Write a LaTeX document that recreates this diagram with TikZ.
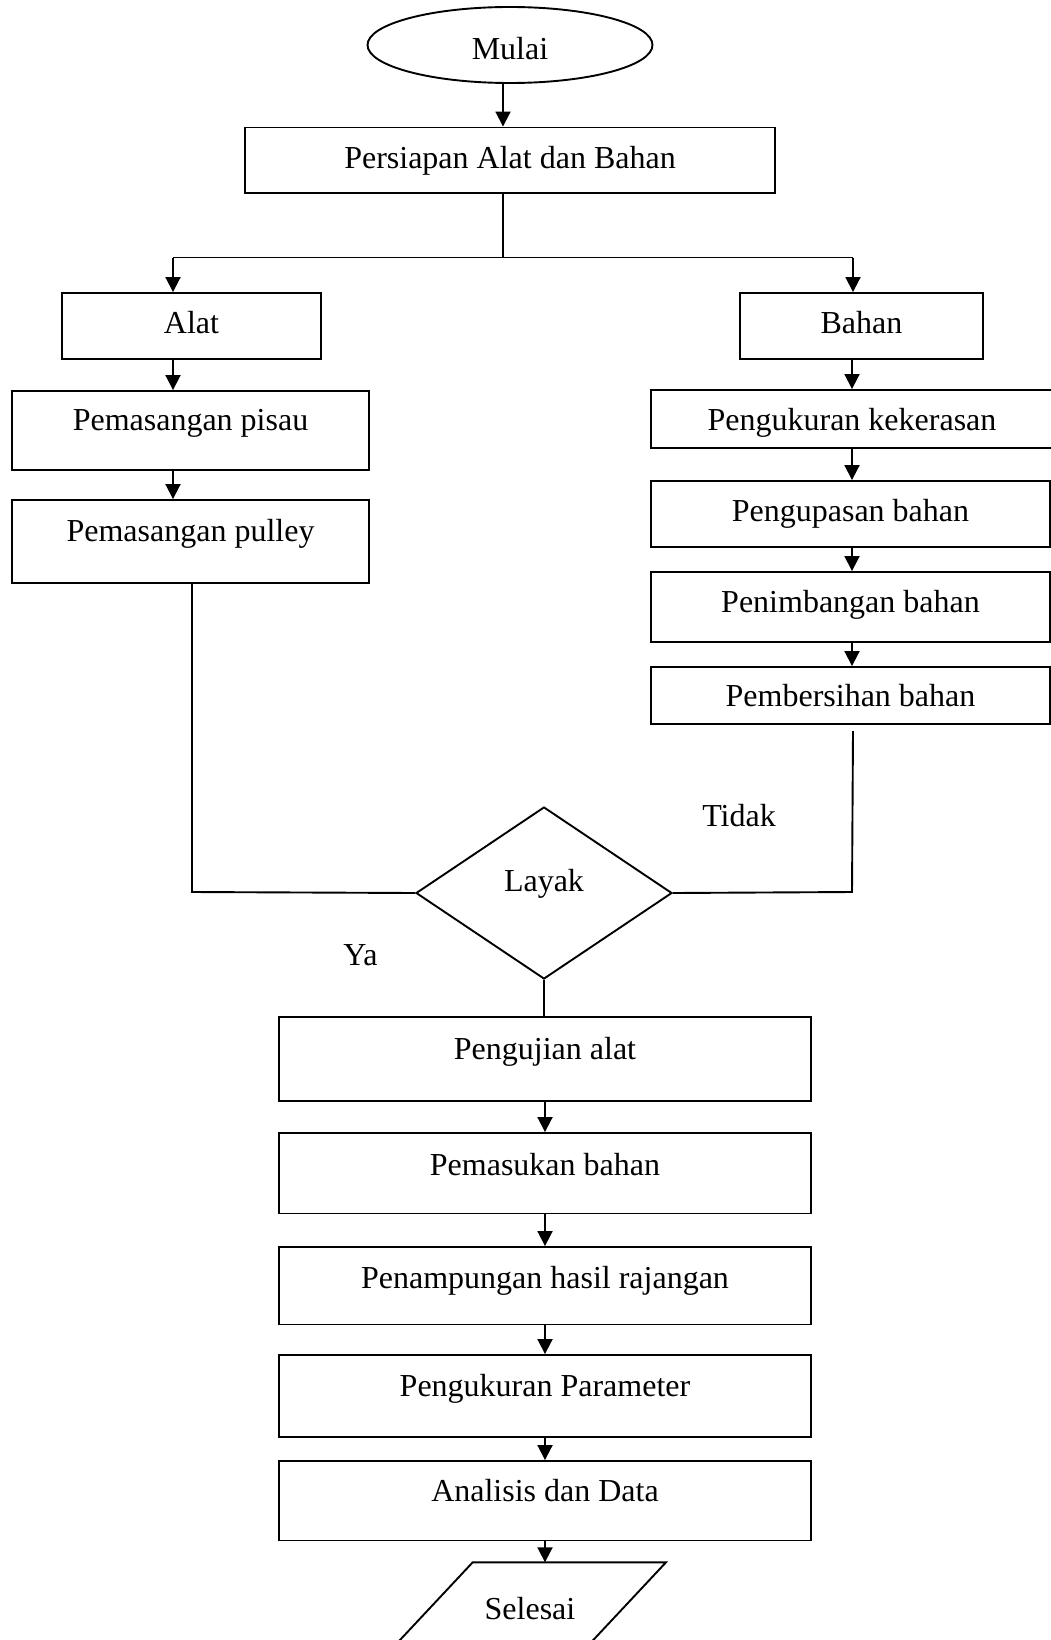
\documentclass[tikz,border=0pt]{standalone}
\usepackage{fontspec}
\setmainfont{Liberation Serif}
\usetikzlibrary{arrows.meta,shapes.geometric}
\begin{document}
\begin{tikzpicture}[x=1pt,y=-1pt,
  line width=1.9pt,
  box/.style={draw, rectangle, inner sep=0pt},
  lbl/.style={inner sep=0pt, anchor=base, font=\fontsize{32}{38}\selectfont},
  arr/.style={-{Triangle[length=15pt,width=15pt]}}]

\path[use as bounding box, fill=white] (0,0) rectangle (1051,1640);
\clip (0,0) rectangle (1051,1640);

% start
\node[draw, ellipse, inner sep=0pt, minimum width=285pt, minimum height=76pt] (mulai) at (510,45) {};
\node[lbl] (tmulai) at (510,60) {Mulai};

% top box
\node[box, minimum width=530pt, minimum height=65.5pt] (persiapan) at (510,160.25) {};
\node[lbl] (tpersiapan) at (510,168.5) {Persiapan Alat dan Bahan};

% left column
\node[box, minimum width=259pt, minimum height=66pt] (alat) at (191.5,326) {};
\node[lbl] (talat) at (191.5,333) {Alat};
\node[box, minimum width=357pt, minimum height=79pt] (pisau) at (190.5,430.5) {};
\node[lbl] (tpisau) at (190.5,430) {Pemasangan pisau};
\node[box, minimum width=357pt, minimum height=83pt] (pulley) at (190.5,541.5) {};
\node[lbl] (tpulley) at (190.5,541.5) {Pemasangan pulley};

% right column
\node[box, minimum width=243pt, minimum height=66pt] (bahan) at (861.5,326) {};
\node[lbl] (tbahan) at (861.5,333) {Bahan};
\node[box, minimum width=402pt, minimum height=58pt] (keras) at (852,419) {};
\node[lbl] (tkeras) at (852,430) {Pengukuran kekerasan};
\node[box, minimum width=399pt, minimum height=66pt] (kupas) at (850.5,514) {};
\node[lbl] (tkupas) at (850.5,521.5) {Pengupasan bahan};
\node[box, minimum width=399pt, minimum height=70pt] (timbang) at (850.5,607) {};
\node[lbl] (ttimbang) at (850.5,612) {Penimbangan bahan};
\node[box, minimum width=399pt, minimum height=57pt] (bersih) at (850.5,695.5) {};
\node[lbl] (tbersih) at (850.5,706.7) {Pembersihan bahan};

% decision
\node[draw, diamond, inner sep=0pt, minimum width=256pt, minimum height=172pt] (layak) at (544,893) {};
\node[lbl] (tlayak) at (544,891.7) {Layak};
\node[lbl] (ttidak) at (739,826.7) {Tidak};
\node[lbl] (tya) at (360.5,965) {Ya};

% lower column
\node[box, minimum width=532pt, minimum height=84pt] (uji) at (545,1059) {};
\node[lbl] (tuji) at (545,1059) {Pengujian alat};
\node[box, minimum width=532pt, minimum height=80.5pt] (masuk) at (545,1173.25) {};
\node[lbl] (tmasuk) at (545,1175.5) {Pemasukan bahan};
\node[box, minimum width=532pt, minimum height=77.5pt] (tampung) at (545,1285.75) {};
\node[lbl] (ttampung) at (545,1288) {Penampungan hasil rajangan};
\node[box, minimum width=532pt, minimum height=81.7pt] (param) at (545,1395.85) {};
\node[lbl] (tparam) at (545,1396) {Pengukuran Parameter};
\node[box, minimum width=532pt, minimum height=79.5pt] (analisis) at (545,1500.75) {};
\node[lbl] (tanalisis) at (545,1501) {Analisis dan Data};

% end (parallelogram, cut by the page edge)
\draw (472.7,1562.3) -- (666,1562.3) -- (537.1,1700) -- (343.8,1700) -- cycle;
\coordinate (selesaitop) at (545,1562.3);
\node[lbl] (tselesai) at (530,1619.5) {Selesai};

% helper coordinates
\coordinate (tx) at (503,0);
\coordinate (sl) at (173,257.5);
\coordinate (sr) at (853,257.5);
\coordinate (lx) at (852,0);
\coordinate (ll) at (192,892);
\coordinate (rt) at (853,731);
\coordinate (rb) at (852,892);

% connectors
\draw[arr] (mulai.south -| tx) -- (persiapan.north -| tx);
\draw (persiapan.south -| tx) -- (tx |- sl);
\draw (sl) -- (sr);
\draw[arr] (sl) -- (alat.north -| sl);
\draw[arr] (sr) -- (bahan.north -| sr);
\draw[arr] (alat.south -| sl) -- (pisau.north -| sl);
\draw[arr] (pisau.south -| sl) -- (pulley.north -| sl);
\draw[arr] (bahan.south -| lx) -- (keras.north -| lx);
\draw[arr] (keras.south -| lx) -- (kupas.north -| lx);
\draw[arr] (kupas.south -| lx) -- (timbang.north -| lx);
\draw[arr] (timbang.south -| lx) -- (bersih.north -| lx);
\draw (pulley.south -| ll) -- (ll) -- (layak.west);
\draw (rt) -- (rb) -- (layak.east);
\draw (layak.south) -- (uji.north -| layak.south);
\draw[arr] (uji.south) -- (masuk.north);
\draw[arr] (masuk.south) -- (tampung.north);
\draw[arr] (tampung.south) -- (param.north);
\draw[arr] (param.south) -- (analisis.north);
\draw[arr] (analisis.south) -- (selesaitop);
\end{tikzpicture}
\end{document}
